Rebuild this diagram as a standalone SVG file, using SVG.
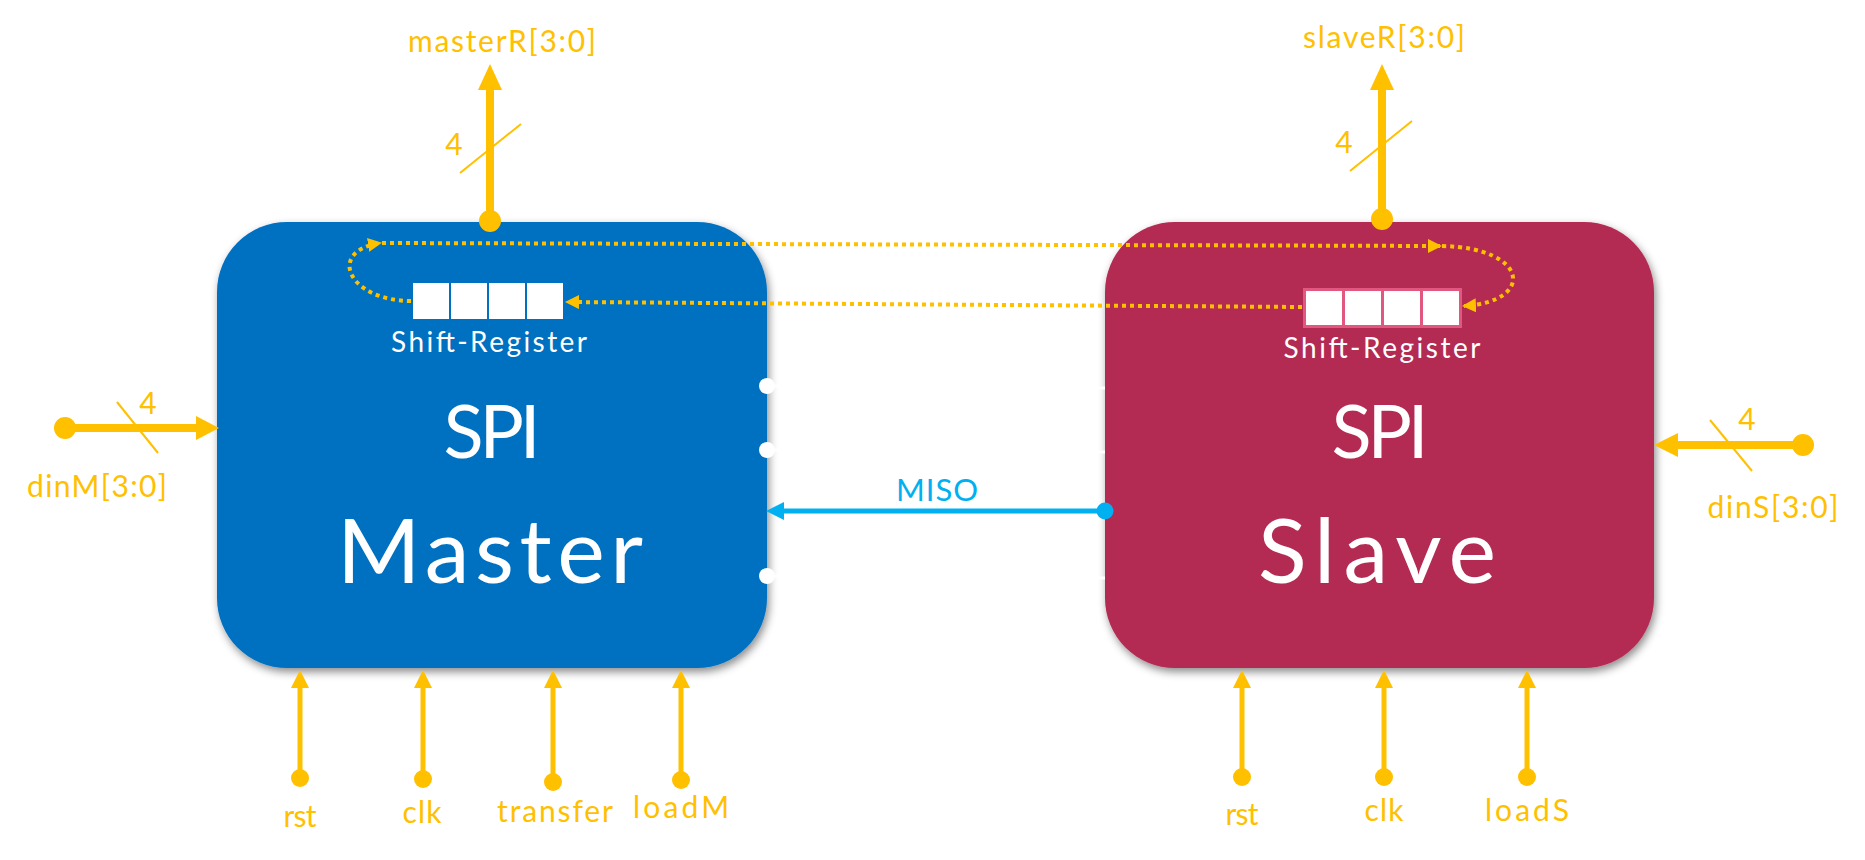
<svg xmlns="http://www.w3.org/2000/svg" width="1865" height="860" viewBox="0 0 1865 860">
<style>
.lbl{font-family:Lato,"Liberation Sans",sans-serif;fill:#FFC000;text-anchor:middle}
.wt{font-family:Lato,"Liberation Sans",sans-serif;fill:#FFFFFF;text-anchor:middle}
.wire{stroke:#FFC000;stroke-width:8;fill:none}
.wire5{stroke:#FFC000;stroke-width:5;fill:none}
.head{fill:#FFC000}
.dot{fill:#FFC000}
.slash{stroke:#FFC000;stroke-width:2;fill:none}
.dotted{stroke:#FFC000;stroke-width:4;stroke-dasharray:4 4;fill:none}
.sq{fill:#FFFFFF}
</style>
<defs>
<filter id="shadow" x="-10%" y="-10%" width="120%" height="125%">
<feDropShadow dx="2" dy="4" stdDeviation="4" flood-color="#000" flood-opacity="0.45"/>
</filter>
<marker id="dh" markerUnits="userSpaceOnUse" markerWidth="14" markerHeight="14" refX="12" refY="7" orient="auto">
<path d="M0,0 L14,7 L0,14 z" fill="#FFC000"/>
</marker>
</defs>
<rect width="1865" height="860" fill="#FFFFFF"/>

<g id="master">
<rect x="217" y="222" width="550" height="446" rx="70" ry="70" fill="#0070C0" filter="url(#shadow)"/>
<rect class="sq" x="413" y="283" width="36" height="36"/>
<rect class="sq" x="451" y="283" width="36" height="36"/>
<rect class="sq" x="489" y="283" width="36" height="36"/>
<rect class="sq" x="527" y="283" width="36" height="36"/>
<text class="wt" x="489" y="352" font-size="28" textLength="196">Shift-Register</text>
<text class="wt" x="492" y="458" font-size="74" textLength="97">SPI</text>
<text class="wt" x="490" y="583" font-size="90" textLength="306">Master</text>
</g>

<g id="slave">
<rect x="1105" y="222" width="549" height="446" rx="70" ry="70" fill="#B32A53" filter="url(#shadow)"/>
<rect x="1303" y="288" width="159" height="40" fill="#E0577F"/>
<rect class="sq" x="1306" y="291" width="36" height="34"/>
<rect class="sq" x="1345" y="291" width="36" height="34"/>
<rect class="sq" x="1384" y="291" width="36" height="34"/>
<rect class="sq" x="1423" y="291" width="36" height="34"/>
<text class="wt" x="1382" y="358" font-size="28" textLength="197">Shift-Register</text>
<text class="wt" x="1380" y="458" font-size="74" textLength="97">SPI</text>
<text class="wt" x="1377" y="583" font-size="90" textLength="238">Slave</text>
</g>

<g id="connectors">
<g stroke="#FFFFFF" stroke-width="3">
<line x1="767" y1="386" x2="1105" y2="388"/>
<line x1="767" y1="450" x2="1105" y2="452"/>
<line x1="767" y1="576" x2="1105" y2="578"/>
</g>
<circle cx="767" cy="386" r="8" fill="#FFFFFF"/>
<circle cx="767" cy="450" r="8" fill="#FFFFFF"/>
<circle cx="767" cy="576" r="8" fill="#FFFFFF"/>

<path class="dotted" d="M411,301 C350,301 325,252 380,243" marker-end="url(#dh)"/>
<path class="dotted" d="M382,243 L1440,246" marker-end="url(#dh)"/>
<path class="dotted" d="M1442,246 C1530,248 1535,302 1464,306" marker-end="url(#dh)"/>
<path class="dotted" d="M1302,307 L567,302" marker-end="url(#dh)"/>

<line x1="1105" y1="511" x2="780" y2="511" stroke="#00B0F0" stroke-width="5"/>
<polygon points="766,511 784,502 784,520" fill="#00B0F0"/>
<circle cx="1105" cy="511" r="8.5" fill="#00B0F0"/>
<text x="937" y="501" font-family="Lato,'Liberation Sans',sans-serif" font-size="31" fill="#00B0F0" text-anchor="middle" textLength="82">MISO</text>
</g>

<g id="port-masterR">
<line class="wire" x1="490" y1="221" x2="490" y2="86"/>
<polygon class="head" points="490,64 478,90 502,90"/>
<circle class="dot" cx="490" cy="221" r="11"/>
<line class="slash" x1="460" y1="173" x2="521" y2="124"/>
<text class="lbl" x="454" y="155" font-size="30">4</text>
<text class="lbl" x="502" y="52" font-size="30" textLength="188">masterR[3:0]</text>
</g>

<g id="port-slaveR">
<line class="wire" x1="1382" y1="219" x2="1382" y2="86"/>
<polygon class="head" points="1382,64 1370,90 1394,90"/>
<circle class="dot" cx="1382" cy="219" r="11"/>
<line class="slash" x1="1350" y1="171" x2="1412" y2="121"/>
<text class="lbl" x="1344" y="153" font-size="30">4</text>
<text class="lbl" x="1384" y="48" font-size="30" textLength="162">slaveR[3:0]</text>
</g>

<g id="port-dinM">
<circle class="dot" cx="65" cy="428" r="11"/>
<line class="wire" x1="65" y1="428" x2="200" y2="428"/>
<polygon class="head" points="219,428 196,416 196,440"/>
<line class="slash" x1="117" y1="402" x2="158" y2="453"/>
<text class="lbl" x="148" y="414" font-size="30">4</text>
<text class="lbl" x="97" y="497" font-size="30" textLength="140">dinM[3:0]</text>
</g>

<g id="port-dinS">
<circle class="dot" cx="1803" cy="445" r="11"/>
<line class="wire" x1="1803" y1="445" x2="1674" y2="445"/>
<polygon class="head" points="1654,445 1678,433 1678,457"/>
<line class="slash" x1="1710" y1="420" x2="1752" y2="471"/>
<text class="lbl" x="1747" y="430" font-size="30">4</text>
<text class="lbl" x="1773" y="518" font-size="30" textLength="131">dinS[3:0]</text>
</g>

<g id="port-rstM">
<line class="wire5" x1="300" y1="778" x2="300" y2="684"/>
<polygon class="head" points="300,670 291,688 309,688"/>
<circle class="dot" cx="300" cy="778" r="9"/>
<text class="lbl" x="300" y="827" font-size="30" textLength="33">rst</text>
</g>
<g id="port-clkM">
<line class="wire5" x1="423" y1="779" x2="423" y2="684"/>
<polygon class="head" points="423,670 414,688 432,688"/>
<circle class="dot" cx="423" cy="779" r="9"/>
<text class="lbl" x="422" y="823" font-size="30" textLength="39">clk</text>
</g>
<g id="port-transfer">
<line class="wire5" x1="553" y1="782" x2="553" y2="684"/>
<polygon class="head" points="553,670 544,688 562,688"/>
<circle class="dot" cx="553" cy="782" r="9"/>
<text class="lbl" x="555" y="822" font-size="30" textLength="116">transfer</text>
</g>
<g id="port-loadM">
<line class="wire5" x1="681" y1="780" x2="681" y2="684"/>
<polygon class="head" points="681,670 672,688 690,688"/>
<circle class="dot" cx="681" cy="780" r="9"/>
<text class="lbl" x="681" y="818" font-size="30" textLength="96">loadM</text>
</g>

<g id="port-rstS">
<line class="wire5" x1="1242" y1="777" x2="1242" y2="684"/>
<polygon class="head" points="1242,670 1233,688 1251,688"/>
<circle class="dot" cx="1242" cy="777" r="9"/>
<text class="lbl" x="1242" y="825" font-size="30" textLength="33">rst</text>
</g>
<g id="port-clkS">
<line class="wire5" x1="1384" y1="777" x2="1384" y2="684"/>
<polygon class="head" points="1384,670 1375,688 1393,688"/>
<circle class="dot" cx="1384" cy="777" r="9"/>
<text class="lbl" x="1384" y="821" font-size="30" textLength="39">clk</text>
</g>
<g id="port-loadS">
<line class="wire5" x1="1527" y1="777" x2="1527" y2="684"/>
<polygon class="head" points="1527,670 1518,688 1536,688"/>
<circle class="dot" cx="1527" cy="777" r="9"/>
<text class="lbl" x="1527" y="821" font-size="30" textLength="84">loadS</text>
</g>
</svg>
